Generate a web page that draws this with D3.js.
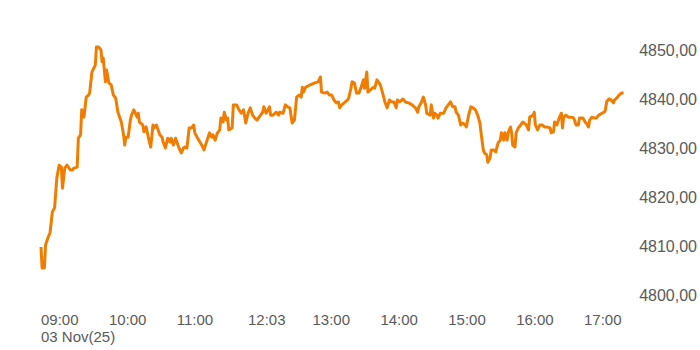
<!DOCTYPE html>
<html>
  <head>
    <meta charset="utf-8">
    <script src="https://d3js.org/d3.v7.min.js"></script>
    <style>
      body { margin: 0; background: #fff; }
      text { font-family: "Liberation Sans", Arial, sans-serif; fill: #5a5a5a; }
    </style>
  </head>
  <body>
    <svg></svg>
    <script>
// intraday prices, 03 Nov 2025
var times = ['09:00','09:01','09:03','09:04','09:06','09:08','09:10','09:12','09:14','09:16','09:18','09:19','09:21','09:23','09:26','09:28','09:29','09:32','09:33','09:35','09:36','09:38','09:40','09:42','09:43','09:45','09:48','09:49','09:51','09:53','09:54','09:55','09:57','09:58',
  '10:00','10:02','10:04','10:06','10:08','10:11','10:13','10:14','10:15','10:17','10:19','10:20','10:22','10:25','10:26','10:27','10:30','10:31','10:33','10:35','10:37','10:39','10:40','10:42','10:45','10:47','10:48','10:50','10:52','10:54','10:55','10:57','10:59',
  '11:01','11:02','11:04','11:06','11:07','11:09','11:11','11:13','11:15','11:16','11:18','11:21','11:23','11:24','11:26','11:29','11:31','11:32','11:34','11:36','11:38','11:39','11:41','11:42','11:44','11:45','11:46','11:49','11:50','11:53','11:55','11:57','11:59',
  '12:01','12:03','12:05','12:07','12:09','12:11','12:14','12:16','12:17','12:19','12:22','12:23','12:25','12:28','12:30','12:31','12:34','12:36','12:38','12:40','12:42','12:44','12:46','12:48','12:50','12:51','12:52','12:54','12:58',
  '13:02','13:05','13:07','13:08','13:11','13:13','13:15','13:17','13:19','13:21','13:23','13:24','13:26','13:29','13:31','13:32','13:34','13:35','13:37','13:39','13:41','13:43','13:45','13:46','13:48','13:49','13:51','13:54','13:55','13:57',
  '14:00','14:02','14:04','14:06','14:08','14:10','14:12','14:14','14:15','14:17','14:20','14:22','14:25','14:28','14:31','14:33','14:34','14:36','14:38','14:40','14:41','14:44','14:45','14:47','14:48','14:50','14:51','14:53','14:56','14:58',
  '15:00','15:02','15:04','15:06','15:07','15:09','15:11','15:13','15:15','15:16','15:18','15:20','15:22','15:24','15:26','15:28','15:29','15:31','15:32','15:34','15:35','15:37','15:38','15:40','15:42','15:44','15:46','15:47','15:49','15:50','15:52','15:53','15:55','15:56','15:57','15:59',
  '16:00','16:02','16:04','16:06','16:09','16:11','16:12','16:15','16:16','16:17','16:19','16:21','16:23','16:25','16:27','16:30','16:31','16:33','16:34','16:36','16:38','16:40','16:41','16:42','16:44','16:46','16:49','16:51','16:53','16:55','16:56','16:59',
  '17:01','17:02','17:04','17:05','17:07','17:09','17:11','17:13','17:16','17:18','17:19','17:20','17:22','17:24','17:26','17:27','17:29','17:31','17:33','17:35'];

var prices = [4809.8,4805.5,4805.5,4810.2,4811.6,4812.7,4816.9,4817.8,4823.9,4826.5,4826.1,4821.8,4825.9,4826.5,4825.5,4825.5,4825.9,4826.1,4832.0,4832.7,4837.8,4836.3,4840.4,4840.8,4841.2,4845.5,4846.9,4850.6,4850.6,4850.0,4847.6,4848.4,4843.5,4845.9,
  4843.3,4842.9,4840.8,4840.2,4837.3,4835.3,4832.7,4830.6,4832.2,4832.2,4835.7,4836.7,4837.8,4836.3,4837.1,4835.3,4834.7,4833.3,4834.3,4832.0,4830.2,4834.7,4834.1,4834.7,4832.7,4832.2,4831.2,4830.0,4832.0,4831.2,4832.0,4830.6,4832.0,
  4830.6,4830.0,4829.0,4830.0,4830.2,4830.0,4834.1,4834.1,4834.7,4833.1,4832.2,4831.0,4830.2,4829.6,4831.0,4833.1,4832.2,4832.7,4831.6,4833.1,4833.7,4836.1,4835.3,4837.3,4835.7,4836.1,4833.7,4834.1,4838.8,4838.8,4837.8,4837.1,4837.8,
  4835.1,4837.1,4838.2,4836.7,4836.1,4835.7,4836.7,4837.3,4838.4,4837.1,4838.4,4836.7,4836.7,4837.3,4836.7,4837.3,4837.1,4838.8,4838.4,4838.2,4835.1,4835.7,4840.4,4840.8,4840.4,4842.4,4841.4,4842.4,4842.9,
  4843.3,4843.5,4844.5,4841.4,4841.2,4841.4,4840.8,4840.8,4839.8,4839.2,4839.4,4838.2,4838.8,4839.4,4839.8,4840.2,4842.2,4843.5,4843.3,4841.2,4841.2,4842.4,4843.9,4842.2,4845.5,4841.4,4841.8,4842.4,4842.2,4843.9,
  4842.9,4841.2,4839.4,4838.2,4839.8,4839.4,4839.4,4838.2,4839.8,4839.4,4840.0,4839.4,4839.2,4838.8,4838.2,4837.3,4838.4,4839.2,4840.4,4838.8,4837.1,4836.7,4838.8,4836.1,4837.1,4836.7,4836.1,4837.1,4837.1,4838.2,
  4838.8,4839.4,4838.4,4838.4,4837.3,4836.7,4834.7,4835.1,4834.7,4834.3,4836.7,4838.4,4838.2,4837.8,4836.7,4835.1,4833.1,4829.6,4829.0,4828.6,4827.1,4828.0,4829.6,4829.6,4829.2,4831.0,4831.6,4833.1,4831.6,4833.1,4831.6,4833.1,4834.3,4833.1,4830.6,4830.2,
  4833.1,4834.1,4834.7,4835.3,4834.7,4833.7,4836.3,4836.7,4837.3,4834.7,4833.7,4834.7,4834.7,4834.3,4834.3,4834.1,4833.1,4833.3,4835.3,4834.7,4836.1,4837.1,4834.1,4836.3,4836.7,4836.3,4836.3,4836.1,4834.7,4834.7,4836.1,4836.1,
  4835.3,4835.1,4834.3,4835.7,4836.3,4836.1,4836.1,4836.7,4837.1,4837.3,4837.8,4839.4,4840.0,4839.8,4839.2,4839.8,4840.2,4840.8,4841.2,4841.2];

var tickTimes = ['09:00','10:00','11:00','12:03','13:00','14:00','15:00','16:00','17:00'];
var yTicks = [4800, 4810, 4820, 4830, 4840, 4850];
var dateLabel = '03 Nov(25)';

var width = 700, height = 350;
var parse = d3.timeParse('%H:%M');
var fmtY = d3.format(',.2f');

var data = times.map((t, i) => ({ t: parse(t), v: prices[i] }));

var x = d3.scaleTime().domain([parse('09:00'), parse('17:00')]).range([41, 584]);
var y = d3.scaleLinear().domain([4800, 4850]).range([295, 50]);

var svg = d3.select('svg')
  .attr('width', width)
  .attr('height', height);

// y labels on the right, comma as decimal mark
svg.append('g')
  .selectAll('text')
  .data(yTicks)
  .enter()
  .append('text')
    .attr('x', 697)
    .attr('y', d => y(d) + 6)
    .attr('text-anchor', 'end')
    .style('font-size', '16px')
    .text(d => fmtY(d).replace(',', '').replace('.', ','));

// x labels, left aligned on the tick
var xg = svg.append('g');
xg.selectAll('text')
  .data(tickTimes)
  .enter()
  .append('text')
    .attr('x', d => x(parse(d)))
    .attr('y', 325)
    .style('font-size', '15px')
    .text(d => d);

xg.append('text')
  .attr('x', x(parse(tickTimes[0])))
  .attr('y', 342)
  .style('font-size', '15px')
  .text(dateLabel);

var line = d3.line()
  .x(d => x(d.t))
  .y(d => y(d.v));

svg.append('path')
  .datum(data)
  .attr('d', line)
  .style('fill', 'none')
  .style('stroke', '#f07d00')
  .style('stroke-width', '3px')
  .style('stroke-linejoin', 'round');
    </script>
  </body>
</html>
